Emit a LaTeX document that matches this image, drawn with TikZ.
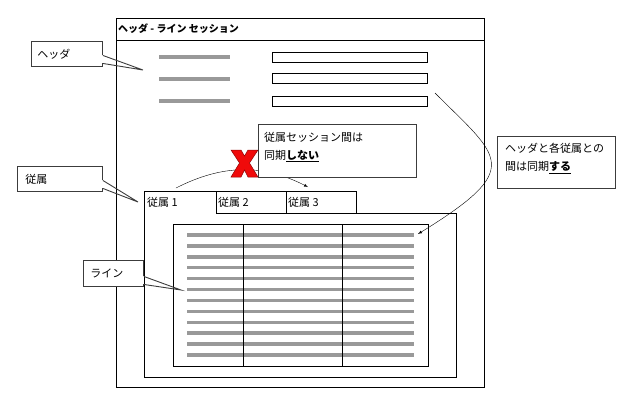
\documentclass[tikz,border=0pt]{standalone}
\usepackage{fontspec}
\setmainfont{Noto Sans CJK JP}
\usetikzlibrary{positioning,arrows}
\definecolor{barGray}{RGB}{153,153,153}
\definecolor{noteGray}{RGB}{60,60,60}
\definecolor{crossRed}{RGB}{240,10,10}
\tikzset{%
  ptr/.style={%
    -latex,
    line width=0.4pt
  },
  bar/.style={%
    draw=barGray,
    line width=3.4pt
  },
  note/.style={%
    draw=noteGray,
    line width=0.9pt,
    fill=white,
    inner sep=0pt
  },
  pointer/.style={%
    draw=noteGray,
    line width=0.9pt
  },
  notetext/.style={%
    anchor=north west,
    inner sep=0pt,
    align=left,
    font=\fontsize{11}{18}\selectfont
  }
}

\begin{document}
\begin{tikzpicture}[x=1pt,y=-1pt,font=\fontsize{11}{14}\selectfont]
    \useasboundingbox (0,0) rectangle (631,413);
    \draw (116,18) rectangle (484,387);
    \draw (116,40) -- (484,40);
    \node[anchor=west,inner sep=1pt,font=\bfseries\fontsize{10}{12}\selectfont] (title) at (117,29) {ヘッダ - ライン セッション};

    \foreach \y in {57,79,101}
      \draw[bar] (159,\y) -- (230,\y);
    \foreach \y in {52,73,96}
      \draw (272,\y) rectangle (427,\y+10.5);

    \draw (144,377) -- (144,191) -- (216,191) -- (216,213) -- (456,213) -- (456,377) -- cycle;
    \draw (216,191) -- (286,191) -- (286,213)
          (286,191) -- (356,191) -- (356,213);
    \node[anchor=west,inner sep=1pt] (tab1) at (146,202) {従属 1};
    \node[anchor=west,inner sep=1pt] (tab2) at (217,202) {従属 2};
    \node[anchor=west,inner sep=1pt] (tab3) at (287,202) {従属 3};

    \draw (173,224) rectangle (428,366);
    \foreach \i in {0,...,11}
      \draw[bar] (187,235+\i*10.9) -- (414,235+\i*10.9);
    \draw (243,224) -- (243,366)
          (342,224) -- (342,366);

    \coordinate (hdrsrc) at (435,93);
    \coordinate (linedst) at (418,234);
    \draw[ptr] (hdrsrc) .. controls (500,158) and (525,168) .. (linedst);

    \coordinate (syncsrc) at (176,188);
    \coordinate (syncdst) at (308,187);
    \draw[ptr] (syncsrc) to[out=27,in=153] (syncdst);

    \filldraw[fill=crossRed,draw=crossRed!60!black,line width=0.5pt]
      (231,150) -- (241,150) -- (244.5,156) -- (248,150) -- (258,150) -- (249.5,163)
      -- (258,177) -- (248,177) -- (244.5,170) -- (241,177) -- (231,177) -- (239.5,163) -- cycle;

    \node[note,anchor=north west,minimum width=158pt,minimum height=53pt] (syncno) at (258,124) {};
    \node[notetext] (syncnotext) at ([xshift=6pt,yshift=-8pt]syncno.north west)
      {従属セッション間は\\同期\textbf{\underline{しない}}};

    \node[note,anchor=north west,minimum width=118pt,minimum height=52pt] (syncyes) at (497,136) {};
    \node[notetext] (syncyestext) at ([xshift=8pt,yshift=-7pt]syncyes.north west)
      {ヘッダと各従属との\\間は同期\textbf{\underline{する}}};

    \node[note,anchor=north west,text width=59pt,inner xsep=6pt,minimum height=25pt] (hdrnote) at (31,41) {ヘッダ};
    \coordinate (hdrtip) at (143,70);
    \fill[white] ([xshift=-1pt,yshift=-1.5pt]hdrnote.east) rectangle ([xshift=1pt,yshift=-9.5pt]hdrnote.east);
    \draw[pointer] ([yshift=-1.5pt]hdrnote.east) -- (hdrtip) -- ([yshift=-9.5pt]hdrnote.east);

    \node[note,anchor=north west,text width=69pt,inner xsep=8pt,minimum height=25pt] (subnote) at (17,166) {従属};
    \coordinate (subtip) at (138,202);
    \fill[white] ([xshift=-1pt,yshift=-1.5pt]subnote.east) rectangle ([xshift=1pt,yshift=-9.5pt]subnote.east);
    \draw[pointer] ([yshift=-1.5pt]subnote.east) -- (subtip) -- ([yshift=-9.5pt]subnote.east);

    \node[note,anchor=north west,text width=46pt,inner xsep=7pt,minimum height=26pt] (linenote) at (83,260) {ライン};
    \coordinate (linetip) at (181,290);
    \fill[white] ([xshift=-1pt,yshift=-3pt]linenote.east) rectangle ([xshift=0.5pt,yshift=-11pt]linenote.east);
    \draw[pointer] ([yshift=-3pt]linenote.east) -- (linetip) -- ([yshift=-11pt]linenote.east);
\end{tikzpicture}
\end{document}
